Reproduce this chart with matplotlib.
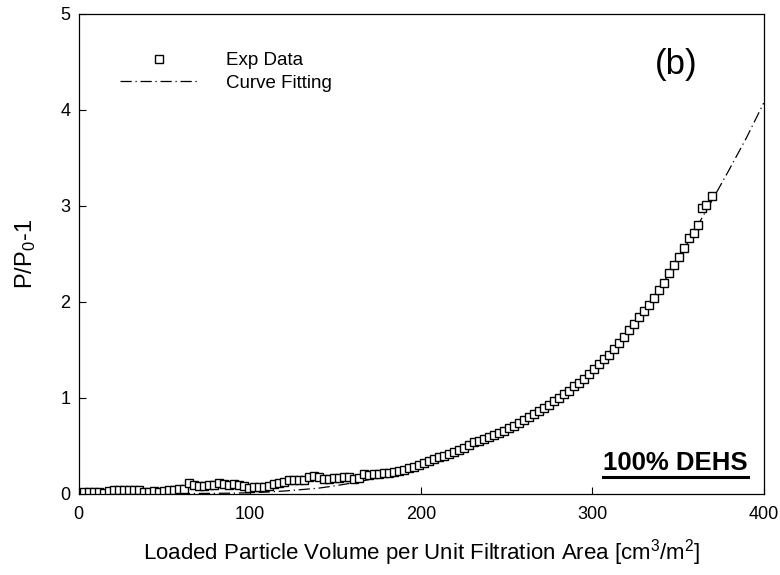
import matplotlib
matplotlib.use("Agg")
import matplotlib.pyplot as plt
from matplotlib.lines import Line2D

plt.rcParams['font.family'] = ['Liberation Sans', 'DejaVu Sans']
plt.rcParams['mathtext.default'] = 'regular'

# ---------------- datos ---------------- #
x_exp = [0, 2.9, 5.8, 8.8, 11.7, 14.6, 17.5, 20.4, 23.4, 26.3,
         29.2, 32.1, 35.0, 38.0, 40.9, 43.8, 46.7, 49.6, 52.6, 55.5,
         58.4, 61.3, 64.2, 67.2, 70.1, 73.0, 75.9, 78.8, 81.8, 84.7,
         87.6, 90.5, 93.4, 96.4, 99.3, 102.2, 105.1, 108.0, 111.0, 113.9,
         116.8, 119.7, 122.6, 125.5, 128.5, 131.4, 134.3, 137.2, 140.1, 143.1,
         146.0, 148.9, 151.8, 154.7, 157.7, 160.6, 163.5, 166.4, 169.3, 172.3,
         175.2, 178.1, 181.0, 183.9, 186.9, 189.8, 192.7, 195.6, 198.5, 201.5,
         204.4, 207.3, 210.2, 213.1, 216.1, 219.0, 221.9, 224.8, 227.7, 230.7,
         233.6, 236.5, 239.4, 242.3, 245.3, 248.2, 251.1, 254.0, 256.9, 259.9,
         262.8, 265.7, 268.6, 271.5, 274.5, 277.4, 280.3, 283.2, 286.1, 289.1,
         292.0, 294.9, 297.8, 300.7, 303.7, 306.6, 309.5, 312.4, 315.3, 318.3,
         321.2, 324.1, 327.0, 329.9, 332.9, 335.8, 338.7, 341.6, 344.5, 347.5,
         350.4, 353.3, 356.2, 359.1, 361.5, 364.0, 366.5, 369.8]
y_exp = [0.005, 0.015, 0.02, 0.025, 0.02, 0.01, 0.03, 0.04, 0.04, 0.04,
         0.04, 0.045, 0.04, 0.02, 0.02, 0.03, 0.02, 0.03, 0.04, 0.045,
         0.05, 0.05, 0.11, 0.09, 0.08, 0.08, 0.09, 0.09, 0.11, 0.10,
         0.09, 0.10, 0.09, 0.08, 0.06, 0.07, 0.075, 0.075, 0.08, 0.10,
         0.11, 0.12, 0.14, 0.14, 0.15, 0.15, 0.18, 0.19, 0.18, 0.16,
         0.16, 0.17, 0.17, 0.18, 0.18, 0.16, 0.17, 0.21, 0.20, 0.21,
         0.21, 0.22, 0.22, 0.23, 0.24, 0.25, 0.27, 0.28, 0.30, 0.32,
         0.34, 0.36, 0.38, 0.40, 0.42, 0.44, 0.46, 0.48, 0.51, 0.54,
         0.55, 0.57, 0.59, 0.61, 0.63, 0.66, 0.69, 0.71, 0.74, 0.77,
         0.80, 0.83, 0.86, 0.89, 0.93, 0.97, 1.00, 1.04, 1.07, 1.12,
         1.16, 1.20, 1.25, 1.30, 1.35, 1.40, 1.45, 1.51, 1.57, 1.63,
         1.71, 1.77, 1.84, 1.90, 1.97, 2.04, 2.12, 2.20, 2.30, 2.38,
         2.47, 2.56, 2.66, 2.72, 2.80, 2.98, 3.01, 3.10]

x_fit = [0, 10, 20, 30, 40, 50, 60, 70, 80, 90,
         100, 110, 120, 130, 140, 150, 160, 170, 180, 190,
         200, 210, 220, 230, 240, 250, 260, 270, 280, 290,
         300, 310, 320, 330, 340, 350, 360, 370, 380, 390, 400]
y_fit = [0, 0, 0.001, 0.001, 0.002, 0.003, 0.004, 0.005, 0.006, 0.008,
         0.012, 0.02, 0.03, 0.045, 0.06, 0.085, 0.115, 0.15, 0.19, 0.24,
         0.30, 0.37, 0.44, 0.52, 0.60, 0.68, 0.77, 0.88, 0.99, 1.12,
         1.27, 1.45, 1.66, 1.90, 2.16, 2.44, 2.75, 3.06, 3.38, 3.71, 4.07]

# ---------------- grafico ---------------- #
fig = plt.figure(figsize=(7.8, 5.75), dpi=100)
ax = fig.add_axes([0.101, 0.141, 0.878, 0.835])

estilo_fit = (0, (9, 3, 1, 3))

ax.plot(x_fit, y_fit, color="black", lw=0.9, linestyle=estilo_fit)
ax.plot(x_exp, y_exp, linestyle="none", marker="s", markersize=6.2,
        markerfacecolor="white", markeredgecolor="black", markeredgewidth=1.0)

ax.set_xlim(0, 400)
ax.set_ylim(0, 5)
ax.set_xticks([0, 100, 200, 300, 400])
ax.set_yticks([0, 1, 2, 3, 4, 5])
ax.tick_params(direction="in", length=5, width=0.8, labelsize=13)
ax.tick_params(axis="x", pad=9)
ax.tick_params(axis="y", pad=6)
for s in ax.spines.values():
    s.set_linewidth(0.9)

ax.set_xlabel("Loaded Particle Volume per Unit Filtration Area [cm$^3$/m$^2$]",
              fontsize=16, labelpad=10)
ax.set_ylabel("P/P$_0$-1", fontsize=17, labelpad=16)

# leyenda manual (marcador arriba, linea abajo)
handles = [Line2D([], [], linestyle="none", marker="s", markersize=6.2,
                  markerfacecolor="white", markeredgecolor="black"),
           Line2D([], [], color="black", lw=0.9, linestyle=estilo_fit)]
ax.legend(handles, ["Exp Data", "Curve Fitting"], loc="upper left",
          bbox_to_anchor=(0.06, 0.92), frameon=False, fontsize=13.5,
          handlelength=4.2, handletextpad=1.45, labelspacing=0.28,
          borderpad=0, borderaxespad=0)

ax.text(0.872, 0.894, "(b)", transform=ax.transAxes, fontsize=25,
        ha="center", va="center")
t = ax.text(0.977, 0.05, "100% DEHS", transform=ax.transAxes, fontsize=18.5,
            fontweight="bold", ha="right", va="baseline")

# subrayado
fig.canvas.draw()
bb = t.get_window_extent().transformed(ax.transAxes.inverted())
ax.plot([bb.x0, bb.x1], [bb.y0 - 0.004, bb.y0 - 0.004], color="black", lw=2.2,
        transform=ax.transAxes, clip_on=False)

fig.savefig("out.png", dpi=100)
